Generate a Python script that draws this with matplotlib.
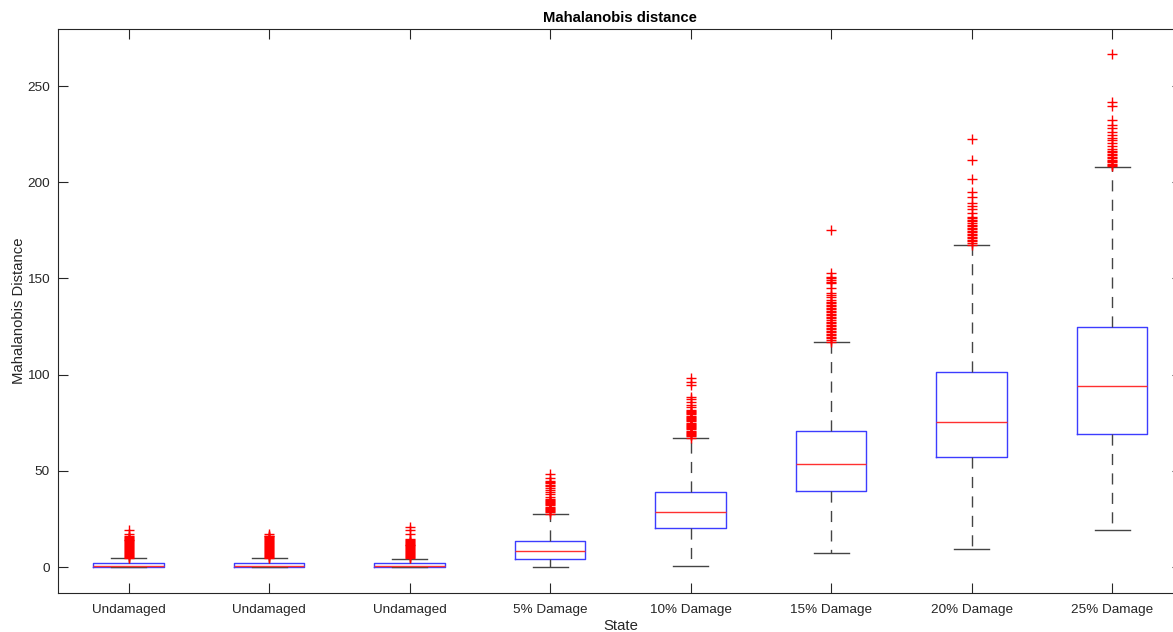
import numpy as np
from matplotlib import pyplot as plt

################################################################################
### Data (box statistics per state)
################################################################################
states = ['Undamaged', 'Undamaged', 'Undamaged', '5% Damage', '10% Damage',
          '15% Damage', '20% Damage', '25% Damage']
whis_lo = [0.0, 0.0, 0.0, 0.0, 0.5, 7.4, 9.2, 19.2]
q1 = [0.0, 0.0, 0.0, 4.2, 20.3, 39.7, 57.2, 69.0]
median = [0.4, 0.4, 0.4, 8.3, 28.6, 53.5, 75.5, 93.9]
q3 = [2.0, 2.0, 1.9, 13.5, 39.0, 70.8, 101.2, 124.6]
whis_hi = [4.5, 4.6, 4.4, 27.5, 67.0, 116.8, 167.2, 207.9]

outliers = [
    [4.8, 5.3, 5.8, 6.3, 6.8, 7.3, 7.8, 8.3, 8.8, 9.3, 9.8, 10.3, 10.8, 11.3,
     11.8, 12.3, 12.8, 13.3, 13.8, 14.3, 14.8, 15.3, 15.8, 16.3, 17.4, 19.2],
    [4.9, 5.4, 5.9, 6.4, 6.9, 7.4, 7.9, 8.4, 8.9, 9.4, 9.9, 10.4, 10.9, 11.4,
     11.9, 12.4, 12.9, 13.4, 13.9, 14.4, 14.9, 15.4, 15.9, 16.3, 17.1],
    [4.7, 5.2, 5.7, 6.2, 6.7, 7.2, 7.7, 8.2, 8.7, 9.2, 9.7, 10.2, 10.7, 11.2,
     11.7, 12.2, 12.7, 13.2, 13.7, 14.2, 14.8, 17.2, 19.0, 20.6],
    [27.8, 28.4, 29.0, 29.6, 30.2, 30.8, 31.4, 32.0, 32.6, 33.2, 33.8, 34.4,
     35.0, 35.6, 36.5, 38.2, 39.0, 39.8, 41.0, 42.0, 42.8, 43.6, 44.4, 44.9,
     46.2, 48.2],
    [67.3, 67.9, 68.5, 69.1, 69.7, 70.3, 70.9, 71.5, 72.1, 72.7, 73.3, 73.9,
     74.5, 75.1, 75.7, 76.3, 76.9, 77.5, 78.1, 78.7, 79.3, 79.9, 80.5, 81.1,
     81.7, 83.0, 84.2, 85.6, 87.2, 88.5, 94.6, 96.2, 98.5],
    [117.2, 118.0, 118.8, 119.6, 120.4, 121.2, 122.0, 122.8, 123.6, 124.4,
     125.2, 126.0, 126.8, 127.6, 128.4, 129.2, 130.0, 130.8, 131.6, 132.4,
     133.2, 134.0, 134.8, 135.6, 136.4, 137.2, 138.0, 139.0, 140.4, 141.6,
     142.6, 145.0, 147.5, 148.4, 149.2, 150.1, 150.9, 152.6, 175.0],
    [167.6, 168.4, 169.2, 170.0, 170.8, 171.6, 172.4, 173.2, 174.0, 174.8,
     175.6, 176.4, 177.2, 178.0, 178.8, 179.6, 180.4, 181.2, 182.0, 184.0,
     186.0, 187.5, 189.0, 192.5, 195.0, 201.5, 211.3, 222.3],
    [208.3, 209.0, 209.7, 210.4, 211.1, 211.8, 212.5, 213.2, 214.0, 214.8,
     215.6, 216.4, 217.5, 219.0, 220.5, 222.0, 223.2, 224.4, 226.0, 228.0,
     230.0, 232.5, 239.5, 241.5, 266.6],
]

################################################################################
### MATLAB-like boxplot
################################################################################
plt.rcParams['font.family'] = ['Liberation Sans', 'DejaVu Sans']
plt.rcParams['lines.scale_dashes'] = False

fig = plt.figure(figsize=(11.73, 6.32), dpi=100)
# right spine sits just past the image edge, as in the reference
ax = fig.add_axes([0.0497, 0.0617, 0.9583, 0.8923])

stats = []
for i in range(len(states)):
    stats.append({'whislo': whis_lo[i], 'q1': q1[i], 'med': median[i],
                  'q3': q3[i], 'whishi': whis_hi[i], 'fliers': outliers[i],
                  'label': states[i]})

positions = np.arange(1, len(states) + 1)
ax.bxp(stats, positions=positions, widths=0.5, showfliers=True,
       boxprops=dict(color='#3c3cff', linewidth=1.0),
       medianprops=dict(color='#ff3030', linewidth=1.0),
       whiskerprops=dict(color='#444444', linewidth=1.0, linestyle=(0, (8, 6))),
       capprops=dict(color='#444444', linewidth=1.0),
       capwidths=0.25,
       flierprops=dict(marker='+', markeredgecolor='red', markersize=7.5,
                       markeredgewidth=1.0, linestyle='none'))

ax.set_xlim(0.5, 8.5)
ax.set_ylim(-13.5, 279.6)
ax.set_yticks([0, 50, 100, 150, 200, 250])
ax.set_xticks(positions)
ax.set_xticklabels(states)

for side in ax.spines.values():
    side.set_color('#262626')
    side.set_linewidth(0.8)
ax.tick_params(direction='in', length=7, width=0.8, color='#262626',
               labelcolor='#262626', labelsize=9.7, top=True, right=True)
ax.tick_params(axis='x', pad=8)
ax.tick_params(axis='y', pad=6)

ax.set_title('Mahalanobis distance', fontsize=10.7, fontweight='bold', pad=5)
ax.set_xlabel('State', fontsize=10.7, color='#262626', labelpad=2)
ax.set_ylabel('Mahalanobis Distance', fontsize=10.7, color='#262626',
              labelpad=1)

fig.savefig('out.png', dpi=100)
